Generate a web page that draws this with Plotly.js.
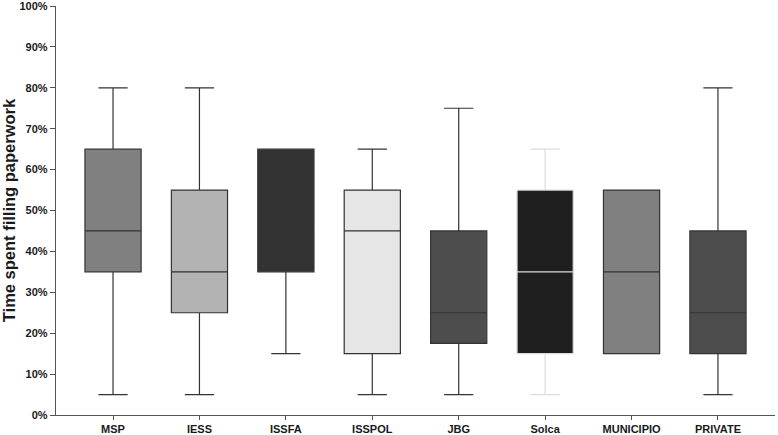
<!DOCTYPE html>
<html>
<head>
<meta charset="utf-8">
<script src="https://cdn.plot.ly/plotly-3.0.1.min.js"></script>
<style>html,body{margin:0;padding:0;background:#fff;}#chart{width:778px;height:435px;}</style>
</head>
<body>
<div id="chart"></div>
<script>
const categories = ["MSP", "IESS", "ISSFA", "ISSPOL", "JBG", "Solca", "MUNICIPIO", "PRIVATE"];
const lowerWhisker = [5, 5, 15, 5, 5, 5, 15, 5];
const q1Values = [35, 25, 35, 15, 17.5, 15, 15, 15];
const medianValues = [45, 35, 45, 45, 25, 35, 35, 25];
const q3Values = [65, 55, 65, 55, 45, 55, 55, 45];
const upperWhisker = [80, 80, 65, 65, 75, 65, 55, 80];
const fillColors = ["#808080", "#b3b3b3", "#333333", "#e6e6e6", "#4d4d4d", "#1f1f1f", "#808080", "#4d4d4d"];
const lineColors = ["#333333", "#333333", "#333333", "#333333", "#333333", "#dcdcdc", "#333333", "#333333"];
const yTicks = [0, 10, 20, 30, 40, 50, 60, 70, 80, 90, 100];

const traces = categories.map((c, i) => ({
  type: "box",
  name: c,
  x: [c],
  q1: [q1Values[i]],
  median: [medianValues[i]],
  q3: [q3Values[i]],
  lowerfence: [lowerWhisker[i]],
  upperfence: [upperWhisker[i]],
  boxpoints: false,
  fillcolor: fillColors[i],
  line: { color: lineColors[i], width: 1.2 },
  width: 0.65,
  whiskerwidth: 0.52,
  showlegend: false,
  hoverinfo: "skip"
}));

const layout = {
  width: 778,
  height: 435,
  margin: { l: 56, r: 3, t: 6, b: 20 },
  paper_bgcolor: "#ffffff",
  plot_bgcolor: "#ffffff",
  font: { family: "Liberation Sans, Arial, sans-serif", color: "#1a1a1a" },
  boxmode: "overlay",
  xaxis: {
    type: "category",
    categoryarray: categories,
    range: [-0.66, 7.66],
    showgrid: false,
    zeroline: false,
    showline: true,
    linecolor: "#555555",
    linewidth: 1.2,
    ticks: "outside",
    ticklen: 4,
    tickcolor: "#555555",
    ticklabeloverflow: "allow",
    tickfont: { size: 11, family: "Liberation Sans, Arial, sans-serif", weight: "bold", color: "#1a1a1a" }
  },
  yaxis: {
    range: [0, 100],
    tickvals: yTicks,
    ticktext: yTicks.map(v => v + "%"),
    showgrid: false,
    zeroline: false,
    showline: true,
    linecolor: "#555555",
    linewidth: 1.2,
    ticks: "outside",
    ticklen: 5,
    tickcolor: "#555555",
    ticklabeloverflow: "allow",
    tickfont: { size: 11, family: "Liberation Sans, Arial, sans-serif", weight: "bold", color: "#1a1a1a" },
    title: { text: "Time spent filling paperwork", font: { size: 16.5, family: "Liberation Sans, Arial, sans-serif", weight: "bold", color: "#1a1a1a" }, standoff: 4 }
  }
};

Plotly.newPlot("chart", traces, layout, { staticPlot: true, displayModeBar: false });
</script>
</body>
</html>
